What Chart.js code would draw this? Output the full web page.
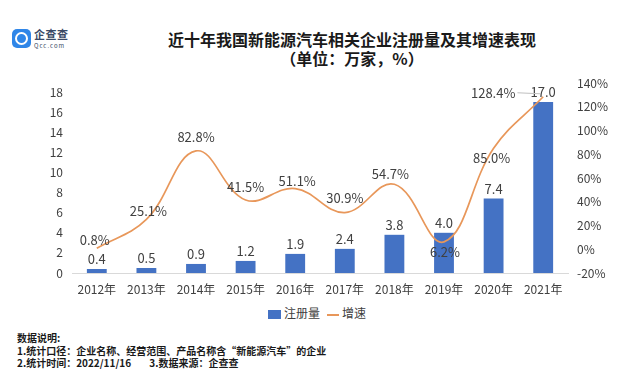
<!DOCTYPE html>
<html>
<head>
<meta charset="utf-8">
<script src="https://cdn.jsdelivr.net/npm/chart.js@4"></script>
<style>
  html, body { margin:0; padding:0; background:#fff; width:626px; height:379px; overflow:hidden; }
  body { position:relative; font-family:"Noto Sans CJK SC", "Noto Sans", sans-serif; color:#262626; }
  #chartWrap { position:absolute; left:0; top:0; width:626px; height:300px; }
  .title { position:absolute; left:152px; width:400px; text-align:center; font-weight:bold; color:#1a1a1a; }
  #t1 { top:28px; font-size:16px; line-height:22px; }
  #t2 { top:47px; font-size:16px; line-height:22px; }
  #logo { position:absolute; left:12px; top:29px; width:19px; height:19px; border-radius:5px; background:#2f86e8; }
  #logo:after { content:""; position:absolute; left:3px; top:3px; width:9px; height:9px; border:2px solid #fff; border-radius:50%; }
  #logoT { position:absolute; left:34px; top:28px; font-size:11px; line-height:13px; color:#3a4a66; font-weight:bold; letter-spacing:0.5px; }
  #logoU { position:absolute; left:34px; top:42px; font-size:6px; line-height:8px; color:#3a4a66; letter-spacing:1px; }
  #legend { position:absolute; top:305px; left:268px; font-size:12px; line-height:16px; color:#404040; }
  #legend .sq { display:inline-block; width:13px; height:9px; background:#4472C4; vertical-align:middle; margin-right:3px; }
  #legend .ln { display:inline-block; width:12px; height:2px; background:#E8975A; vertical-align:middle; margin:0 3px 0 7px; }
  #notes { position:absolute; left:17px; top:332px; font-size:10px; line-height:12.5px; font-weight:bold; color:#1a1a1a; }
</style>
</head>
<body>
<div id="logo"></div>
<div id="logoT">企查查</div>
<div id="logoU">Qcc.com</div>
<div class="title" id="t1">近十年我国新能源汽车相关企业注册量及其增速表现</div>
<div class="title" id="t2">（单位：万家，%）</div>
<div id="chartWrap"><canvas id="c" width="626" height="300"></canvas></div>
<div id="legend"><span class="sq"></span>注册量<span class="ln"></span>增速</div>
<div id="notes">数据说明:<br>1.统计口径：企业名称、经营范围、产品名称含“新能源汽车”的企业<br>2.统计时间：2022/11/16&nbsp;&nbsp;&nbsp;&nbsp;&nbsp;&nbsp;&nbsp;&nbsp;3.数据来源：企查查</div>
<script>
const years = ['2012年','2013年','2014年','2015年','2016年','2017年','2018年','2019年','2020年','2021年'];
const registrations = [0.4, 0.5, 0.9, 1.2, 1.9, 2.4, 3.8, 4.0, 7.4, 17.0];
const growthRate = [0.8, 25.1, 82.8, 41.5, 51.1, 30.9, 54.7, 6.2, 85.0, 128.4];
const leftTicks = [0, 2, 4, 6, 8, 10, 12, 14, 16, 18];
const rightTicks = [-20, 0, 20, 40, 60, 80, 100, 120, 140];

// label placement (style only)
const growthLabelOffset = [[-2,-8],[2,-8],[0,-14],[0,-13],[2,-8],[0,-14],[-4,-10],[1,10],[-2,10],[-50,-4]];

const labelPlugin = {
  id: 'valueLabels',
  afterDatasetsDraw(chart) {
    const ctx = chart.ctx;
    ctx.save();
    ctx.font = '13px "Noto Sans CJK SC", sans-serif';
    ctx.fillStyle = '#404040';
    ctx.textAlign = 'center';
    ctx.textBaseline = 'middle';
    const bm = chart.getDatasetMeta(0);
    bm.data.forEach((el, i) => {
      ctx.fillText(registrations[i].toFixed(1), el.x, el.y - 10);
    });
    const lm = chart.getDatasetMeta(1);
    lm.data.forEach((el, i) => {
      const [dx, dy] = growthLabelOffset[i];
      const txt = growthRate[i].toFixed(1) + '%';
      ctx.fillText(txt, el.x + dx, el.y + dy);
      if (i === lm.data.length - 1) {
        const w = ctx.measureText(txt).width;
        ctx.strokeStyle = '#bfbfbf';
        ctx.lineWidth = 1;
        ctx.beginPath();
        ctx.moveTo(el.x + dx + w / 2 + 2, el.y + dy);
        ctx.lineTo(el.x - 3, el.y + dy + 1);
        ctx.stroke();
      }
    });
    ctx.restore();
  }
};

new Chart(document.getElementById('c'), {
  data: {
    labels: years,
    datasets: [
      { type: 'bar', label: '注册量', data: registrations, backgroundColor: '#4472C4',
        yAxisID: 'y', barPercentage: 0.4, categoryPercentage: 1.0, order: 2 },
      { type: 'line', label: '增速', data: growthRate, borderColor: '#E8975A', borderWidth: 1.7,
        tension: 0.4, pointRadius: 0, fill: false, yAxisID: 'y1', order: 1 }
    ]
  },
  options: {
    responsive: false,
    animation: false,
    devicePixelRatio: 1,
    layout: { padding: { top: 83, left: 0, right: 0, bottom: 0 } },
    plugins: { legend: { display: false }, tooltip: { enabled: false }, title: { display: false } },
    scales: {
      x: {
        grid: { display: false, drawTicks: false },
        border: { display: true, color: '#d9d9d9' },
        ticks: { padding: 9, color: '#404040', font: { size: 12, family: '"Noto Sans CJK SC", sans-serif' } },
        afterFit: s => { s.height = 27; }
      },
      y: {
        position: 'left', min: 0, max: 18.9,
        grid: { display: false, drawTicks: false },
        border: { display: false },
        afterBuildTicks: s => { s.ticks = leftTicks.map(v => ({ value: v })); },
        ticks: { padding: 9, color: '#404040', font: { size: 12, family: '"Noto Sans CJK SC", sans-serif' },
          callback: v => String(v) },
        afterFit: s => { s.width = 72; }
      },
      y1: {
        position: 'right', min: -20, max: 140,
        grid: { display: false, drawTicks: false },
        border: { display: false },
        afterBuildTicks: s => { s.ticks = rightTicks.map(v => ({ value: v })); },
        ticks: { padding: 9, color: '#404040', font: { size: 12, family: '"Noto Sans CJK SC", sans-serif' },
          callback: v => v + '%' },
        afterFit: s => { s.width = 58; }
      }
    }
  },
  plugins: [labelPlugin]
});
</script>
</body>
</html>
